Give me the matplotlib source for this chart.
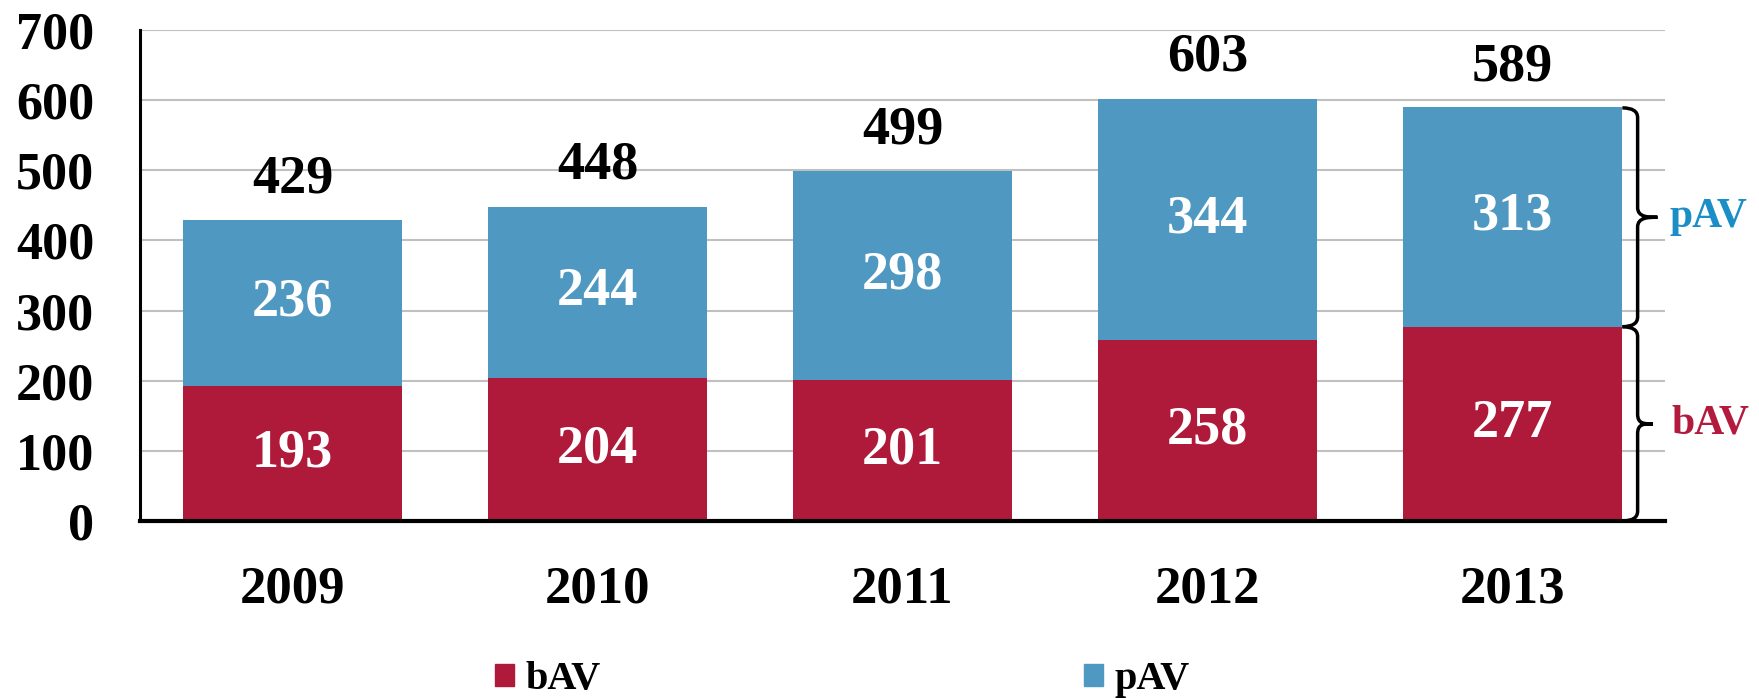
import matplotlib.pyplot as plt
from matplotlib.patches import Patch, PathPatch
from matplotlib.path import Path

# data
years = ["2009", "2010", "2011", "2012", "2013"]
bav = [193, 204, 201, 258, 277]
pav = [236, 244, 298, 344, 313]
totals = [429, 448, 499, 603, 589]

c_bav = "#B01A3A"
c_pav = "#4F98C1"

plt.rcParams['font.family'] = ['Liberation Serif', 'DejaVu Serif']
plt.rcParams['font.weight'] = 'bold'

fig = plt.figure(figsize=(17.59, 6.98), dpi=100)
ax = fig.add_axes([0.0796, 0.2536, 0.867, 0.7034])

x = list(range(len(years)))
w = 0.72
ax.bar(x, bav, width=w, color=c_bav, zorder=2)
ax.bar(x, pav, width=w, bottom=bav, color=c_pav, zorder=2)

for i in x:
    ax.text(i, bav[i] / 2, str(bav[i]), ha='center', va='center',
            color='white', fontsize=39, fontweight='bold', zorder=3)
    ax.text(i, bav[i] + pav[i] / 2, str(pav[i]), ha='center', va='center',
            color='white', fontsize=39, fontweight='bold', zorder=3)
    ax.annotate(str(totals[i]), (i, totals[i]), xytext=(0, 20),
                textcoords='offset points', ha='center', va='baseline',
                fontsize=39, fontweight='bold', annotation_clip=False)

ax.set_xlim(-0.5, 4.5)
ax.set_ylim(0, 700)
ax.set_yticks(range(0, 701, 100))
ax.set_xticks(x)
ax.set_xticklabels(years)
ax.tick_params(axis='y', length=0, pad=33, labelsize=37.5)
ax.tick_params(axis='x', length=0, pad=32, labelsize=38)
for lab in ax.get_xticklabels() + ax.get_yticklabels():
    lab.set_fontweight('bold')

ax.grid(axis='y', color='#C0C0C0', linewidth=1.5, zorder=0)
ax.set_axisbelow(True)
for s in ['top', 'right']:
    ax.spines[s].set_visible(False)
ax.spines['left'].set_linewidth(2.2)
ax.spines['bottom'].set_linewidth(3)
ax.spines['left'].set_zorder(4)
ax.spines['bottom'].set_zorder(4)


def brace(y0, y1, x0=4.36, xs=4.41, xt=4.475, r=14):
    ym = (y0 + y1) / 2
    verts = [(x0, y1), (xs, y1), (xs, y1 - r),
             (xs, ym + r),
             (xs, ym), (xt - 0.03, ym), (xt, ym),
             (xt - 0.03, ym), (xs, ym), (xs, ym - r),
             (xs, y0 + r),
             (xs, y0), (x0, y0), (x0, y0)]
    codes = [Path.MOVETO, Path.CURVE3, Path.CURVE3,
             Path.LINETO,
             Path.CURVE4, Path.CURVE4, Path.CURVE4,
             Path.CURVE4, Path.CURVE4, Path.CURVE4,
             Path.LINETO,
             Path.CURVE3, Path.CURVE3, Path.LINETO]
    ax.add_patch(PathPatch(Path(verts, codes), fill=False, lw=2.5,
                           edgecolor='black', clip_on=False, zorder=5))
    return ym


ym = brace(bav[-1], totals[-1])
ax.text(4.515, ym, "pAV", color="#1B8EC6", fontsize=30, fontweight='bold',
        ha='left', va='center', clip_on=False)
ym = brace(0, bav[-1], xt=4.46)
ax.text(4.52, ym, "bAV", color="#B31B3E", fontsize=30, fontweight='bold',
        ha='left', va='center', clip_on=False)

handles = [Patch(color=c_bav, label='bAV'), Patch(color=c_pav, label='pAV')]
fig.legend(handles=handles, loc='center', bbox_to_anchor=(0.479, 0.026),
           ncol=2, frameon=False, handlelength=0.47,
           handleheight=0.47, handletextpad=0.28, columnspacing=12.0,
           prop={'weight': 'bold', 'size': 29})

fig.savefig("out.png", dpi=100)
